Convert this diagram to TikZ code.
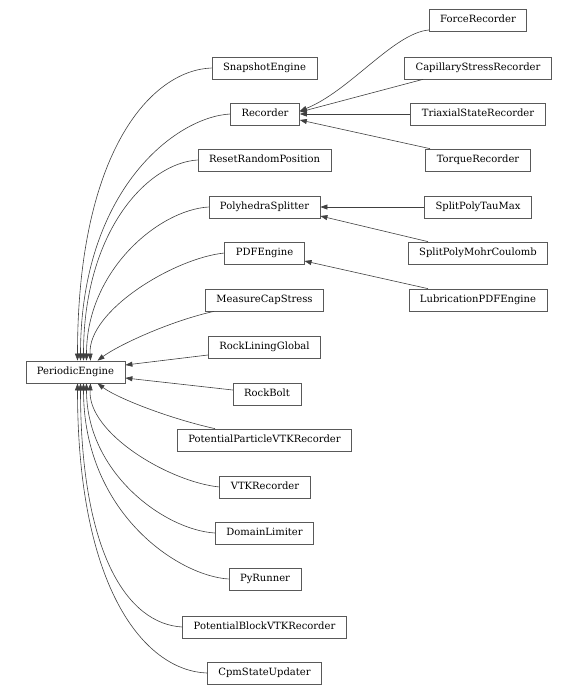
\documentclass[tikz,border=0pt]{standalone}
\usepackage{fontspec}
\setmainfont{DejaVu Serif}
\usetikzlibrary{arrows.meta}

\tikzset{
  cls/.style={draw=black!65, line width=0.7pt, fill=white, font=\fontsize{10}{12}\selectfont,
    inner xsep=11pt, inner ysep=0pt, minimum height=22pt, text height=7.5pt, text depth=2pt},
  inh/.style={draw=black!75, line width=0.6pt, -{Triangle[length=7pt, width=5pt]}},
}

\begin{document}
\begin{tikzpicture}[x=1pt, y=-1pt]
  \useasboundingbox (0,0) rectangle (578,696);

  % base class
  \node[cls] (pe) at (75.5,372) {PeriodicEngine};

  % direct subclasses
  \node[cls] (snap)   at (264.5,68)  {SnapshotEngine};
  \node[cls] (rec)    at (265,114)   {Recorder};
  \node[cls] (reset)  at (264.5,160) {ResetRandomPosition};
  \node[cls] (poly)   at (264.5,207) {PolyhedraSplitter};
  \node[cls] (pdf)    at (264.5,253) {PDFEngine};
  \node[cls] (mcs)    at (264.5,300) {MeasureCapStress};
  \node[cls] (rlg)    at (264.5,347) {RockLiningGlobal};
  \node[cls] (bolt)   at (267,394)   {RockBolt};
  \node[cls] (ppvtk)  at (264.5,440) {PotentialParticleVTKRecorder};
  \node[cls] (vtk)    at (265,487)   {VTKRecorder};
  \node[cls] (dom)    at (264.5,533) {DomainLimiter};
  \node[cls] (pyr)    at (265,579)   {PyRunner};
  \node[cls] (pbvtk)  at (264.5,627) {PotentialBlockVTKRecorder};
  \node[cls] (cpm)    at (264.5,673) {CpmStateUpdater};

  % second level
  \node[cls] (force)  at (478,20)  {ForceRecorder};
  \node[cls] (cap)    at (478,68)  {CapillaryStressRecorder};
  \node[cls] (triax)  at (478,114) {TriaxialStateRecorder};
  \node[cls] (torque) at (478,160) {TorqueRecorder};
  \node[cls] (tau)    at (478,207) {SplitPolyTauMax};
  \node[cls] (mohr)   at (478,253) {SplitPolyMohrCoulomb};
  \node[cls] (lub)    at (478,300) {LubricationPDFEngine};

  % edges into PeriodicEngine, from above
  \draw[inh] (snap.west)  .. controls +(-60,2) and +(0,-210) .. ([xshift=2pt]pe.north);
  \draw[inh] (rec.west)   .. controls +(-55,3) and +(0,-170) .. ([xshift=5pt]pe.north);
  \draw[inh] (reset.west) .. controls +(-50,3) and +(0,-130) .. ([xshift=8pt]pe.north);
  \draw[inh] (poly.west)  .. controls +(-50,3) and +(0,-90) .. ([xshift=11pt]pe.north);
  \draw[inh] (pdf.west)   .. controls +(-50,5) and +(-3,-50) .. ([xshift=15pt]pe.north);
  \draw[inh] ([xshift=9pt]mcs.south west) .. controls +(-45,10) and +(20,-15) .. ([xshift=22pt]pe.north);
  \draw[inh] ([yshift=-8pt]rlg.west) -- ([yshift=7pt]pe.east);
  \draw[inh] ([yshift=4pt]bolt.west) -- ([yshift=-6pt]pe.east);

  % edges into PeriodicEngine, from below
  \draw[inh] ([xshift=38pt]ppvtk.north west) .. controls +(-45,-10) and +(20,15) .. ([xshift=22pt]pe.south);
  \draw[inh] (vtk.west)   .. controls +(-50,-5) and +(-3,50) .. ([xshift=15pt]pe.south);
  \draw[inh] (dom.west)   .. controls +(-50,-3) and +(0,90) .. ([xshift=11pt]pe.south);
  \draw[inh] (pyr.west)   .. controls +(-50,-3) and +(0,130) .. ([xshift=8pt]pe.south);
  \draw[inh] (pbvtk.west) .. controls +(-55,-3) and +(0,170) .. ([xshift=5pt]pe.south);
  \draw[inh] (cpm.west)   .. controls +(-60,-2) and +(0,210) .. ([xshift=2pt]pe.south);

  % Recorder subclasses
  \draw[inh] ([yshift=-10pt]force.west) .. controls +(-35,3) and +(50,-20) .. ([yshift=3pt]rec.east);
  \draw[inh] ([xshift=-55pt]cap.south) -- ([yshift=2pt]rec.east);
  \draw[inh] (triax.west) -- (rec.east);
  \draw[inh] ([xshift=-48pt]torque.north) -- ([yshift=-6pt]rec.east);

  % PolyhedraSplitter subclasses
  \draw[inh] (tau.west) -- (poly.east);
  \draw[inh] ([xshift=-50pt]mohr.north) -- ([yshift=-9pt]poly.east);

  % PDFEngine subclass
  \draw[inh] ([xshift=-50pt]lub.north) -- ([yshift=-8pt]pdf.east);
\end{tikzpicture}
\end{document}
